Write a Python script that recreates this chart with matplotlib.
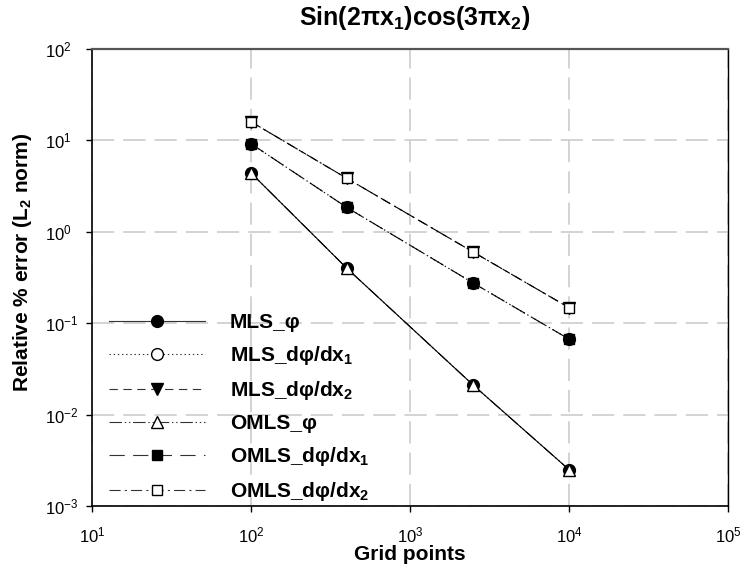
import matplotlib
matplotlib.use("Agg")
import matplotlib.pyplot as plt
from matplotlib.ticker import NullLocator, LogLocator

# ---- data ----
grid_points = [100, 400, 2500, 10000]
mls_phi = [4.4, 0.40, 0.021, 0.0025]
mls_dphi_dx1 = [9.2, 1.85, 0.275, 0.067]
mls_dphi_dx2 = [16.0, 3.85, 0.60, 0.148]
omls_phi = [4.4, 0.40, 0.021, 0.0025]
omls_dphi_dx1 = [9.2, 1.85, 0.275, 0.067]
omls_dphi_dx2 = [16.0, 3.85, 0.60, 0.148]

labels = ["MLS_φ", "MLS_dφ/dx$_\\mathbf{1}$", "MLS_dφ/dx$_\\mathbf{2}$",
          "OMLS_φ", "OMLS_dφ/dx$_\\mathbf{1}$", "OMLS_dφ/dx$_\\mathbf{2}$"]
title = "Sin(2πx$_\\mathbf{1}$)cos(3πx$_\\mathbf{2}$)"
xlabel = "Grid points"
ylabel = "Relative % error (L$_\\mathbf{2}$ norm)"

fam = "Liberation Sans"
plt.rcParams['font.family'] = [fam, 'DejaVu Sans']
plt.rcParams['mathtext.fontset'] = 'custom'
plt.rcParams['mathtext.rm'] = fam
plt.rcParams['mathtext.bf'] = fam + ':bold'
plt.rcParams['mathtext.it'] = fam + ':italic'
plt.rcParams['lines.scale_dashes'] = False

W, H = 740, 567
fig = plt.figure(figsize=(W / 100, H / 100), dpi=100)
L, R, T, B = 92, 728, 49, 506
ax = fig.add_axes([L / W, (H - B) / H, (R - L) / W, (B - T) / H])
ax.set_xscale('log')
ax.set_yscale('log')
ax.set_xlim(10, 1e5)
ax.set_ylim(1e-3, 1e2)

series = [mls_phi, mls_dphi_dx1, mls_dphi_dx2, omls_phi, omls_dphi_dx1, omls_dphi_dx2]
styles = [
    dict(ls='-', marker='o', mfc='black', ms=8.5),
    dict(ls=(0, (1, 2)), marker='o', mfc='white', ms=8.5),
    dict(ls=(0, (6, 4)), marker='v', mfc='black', ms=8),
    dict(ls=(0, (9, 2, 1, 2, 1, 2)), marker='^', mfc='white', ms=8),
    dict(ls=(0, (11, 6)), marker='s', mfc='black', ms=7.5),
    dict(ls=(0, (8, 3, 1.5, 3)), marker='s', mfc='white', ms=7.5),
]
handles = []
for vals, lab, st in zip(series, labels, styles):
    h, = ax.plot(grid_points, vals, color='black', lw=0.8, mec='black', mew=1.0,
                 label=lab, **st)
    handles.append(h)

ax.grid(True, which='major', color='#c8c8c8', lw=1.1, ls=(0, (16, 6.5)))
ax.set_axisbelow(True)
ax.xaxis.set_minor_locator(NullLocator())
ax.yaxis.set_minor_locator(NullLocator())
ax.xaxis.set_major_locator(LogLocator(base=10, numticks=10))
ax.yaxis.set_major_locator(LogLocator(base=10, numticks=10))
ax.tick_params(which='major', direction='out', length=4, width=1,
               labelsize=12, colors='black')
ax.tick_params(axis='x', pad=10)
ax.tick_params(axis='y', pad=(L - 45 - 5.5) / 1.389)
for t in ax.get_yticklabels():
    t.set_horizontalalignment('left')
ax.tick_params(top=False, right=False)

for s in ['left', 'bottom']:
    ax.spines[s].set_linewidth(1.2)
    ax.spines[s].set_color('black')
ax.spines['right'].set_linewidth(1.0)
ax.spines['top'].set_linewidth(1.6)
ax.spines['top'].set_color('#555555')

ax.set_xlabel(xlabel, fontsize=15, fontweight='bold', va='center')
ax.xaxis.set_label_coords(0.5, -(555 - B) / (B - T))
ax.set_ylabel(ylabel, fontsize=15, fontweight='bold', va='center')
ax.yaxis.set_label_coords((23 - L) / (R - L), (B - 262) / (B - T))

fig.text(415 / W, 1 - 18 / H, title, fontsize=18, fontweight='bold',
         ha='center', va='center')

leg = ax.legend(handles=handles, loc='upper left',
                bbox_to_anchor=((109 - L) / (R - L), (B - 313) / (B - T)),
                frameon=False, borderpad=0, borderaxespad=0,
                handlelength=4.6, handletextpad=1.2, labelspacing=0.58,
                prop=dict(family=fam, weight='bold', size=15))
for ln in leg.get_lines():
    ln.set_color('#333333')
    ln.set_markeredgecolor('black')

fig.savefig('out.png', dpi=100)
